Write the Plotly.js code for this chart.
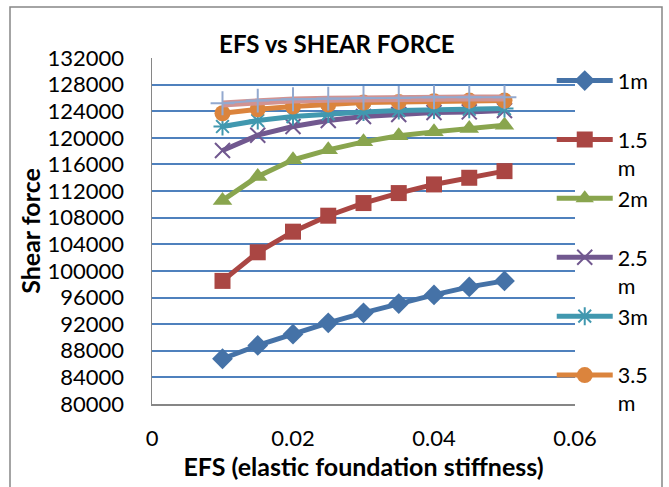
<!DOCTYPE html>
<html>
<head>
<meta charset="utf-8">
<script src="https://cdn.plot.ly/plotly-3.0.1.min.js"></script>
<style>
html,body{margin:0;padding:0;background:#fff;}
#chart{width:669px;height:487px;}
</style>
</head>
<body>
<div id="chart"></div>
<script>
const efs = [0.01, 0.015, 0.02, 0.025, 0.03, 0.035, 0.04, 0.045, 0.05];
const sf1m  = [86800, 88800, 90500, 92200, 93700, 95100, 96400, 97600, 98500];
const sf15m = [98500, 102800, 105900, 108300, 110200, 111700, 113000, 114000, 115000];
const sf2m  = [110600, 114200, 116700, 118200, 119400, 120300, 120900, 121400, 121900];
const sf25m = [118100, 120400, 121700, 122600, 123200, 123500, 123800, 123900, 124100];
const sf3m  = [121700, 122600, 123200, 123600, 123900, 124100, 124200, 124300, 124400];
const sf35m = [123700, 124300, 124700, 125000, 125300, 125400, 125500, 125600, 125600];
const sf4m  = [125100, 125500, 125700, 125800, 125900, 126000, 126000, 126000, 126000];
const sf45m = [125200, 125600, 125800, 125900, 126000, 126000, 126100, 126100, 126100];
const seriesNames = ['1m<br> ', '1.5<br>m', '2m<br> ', '2.5<br>m', '3m<br> ', '3.5<br>m', '4m', '4.5m'];
const xTickVals = [0, 0.02, 0.04, 0.06];
const xTickText = ['0', '0.02', '0.04', '0.06'];

const FONT = 'Lato, "Open Sans", sans-serif';

function tr(y, name, color, symbol, size, opts) {
  opts = opts || {};
  const open = symbol.indexOf('open') >= 0;
  return {
    x: efs, y: y, name: name, type: 'scatter', mode: 'lines+markers',
    legendgroup: name,
    showlegend: opts.showlegend !== false,
    line: {color: opts.lineColor || color, width: opts.lineWidth || 5},
    marker: {
      symbol: symbol, size: size, color: color,
      line: open ? {color: color, width: opts.mlw || 2} : {width: 0}
    }
  };
}

const data = [
  tr(sf1m,  seriesNames[0], '#4572A7', 'diamond', 16),
  tr(sf15m, seriesNames[1], '#AA4643', 'square', 16),
  tr(sf2m,  seriesNames[2], '#89A54E', 'triangle-up', 17),
  tr(sf25m, seriesNames[3], '#71588F', 'x-thin-open', 15),
  tr(sf3m,  seriesNames[4], '#4198AF', 'asterisk-open', 15),
  tr(sf35m, seriesNames[5], '#DB843D', 'circle', 16),
  tr(sf4m,  seriesNames[6], '#D19392', 'circle', 1, {showlegend: false, lineWidth: 7}),
  tr(sf45m, seriesNames[7], '#93A9CF', 'cross-thin-open', 17, {showlegend: false, lineWidth: 2, mlw: 2})
];

const layout = {
  width: 669, height: 487,
  margin: {l: 152, r: 94, t: 58, b: 82.5, pad: 0},
  paper_bgcolor: '#ffffff', plot_bgcolor: '#ffffff',
  font: {family: FONT, size: 22, color: '#000'},
  showlegend: true,
  title: {
    text: '<b>EFS vs SHEAR FORCE</b>',
    font: {family: FONT, size: 24, color: '#000'},
    xref: 'paper', x: 0.437, xanchor: 'center',
    yref: 'container', y: 1 - 45 / 487, yanchor: 'middle'
  },
  xaxis: {
    range: [0, 0.06], tickvals: xTickVals, ticktext: xTickText,
    showgrid: false, zeroline: false,
    showline: true, linecolor: '#868686', linewidth: 1.5,
    ticks: '', ticklabelstandoff: 14,
    tickfont: {family: FONT, size: 22, color: '#000'},
    title: {text: '<b>EFS (elastic foundation stiffness)</b>', font: {family: FONT, size: 25, color: '#000'}, standoff: 4}
  },
  yaxis: {
    range: [80000, 132000], dtick: 4000, tick0: 80000, tickformat: 'd',
    showgrid: true, gridcolor: '#4F81BD', gridwidth: 2,
    zeroline: false,
    showline: true, linecolor: '#868686', linewidth: 1.5,
    ticks: '', ticklabelstandoff: 22,
    tickfont: {family: FONT, size: 22, color: '#000'},
    title: {text: '<b>Shear force</b>', font: {family: FONT, size: 25, color: '#000'}, standoff: 0}
  },
  legend: {
    x: 0.945, xanchor: 'left', y: 0.994, yanchor: 'top',
    bgcolor: 'rgba(0,0,0,0)', borderwidth: 0,
    font: {family: FONT, size: 21.5, color: '#000'},
    tracegroupgap: 0, valign: 'top', itemwidth: 56, maxheight: 470
  },
  shapes: [{
    type: 'rect', xref: 'paper', yref: 'paper',
    x0: (10 - 152) / 423, x1: (662 - 152) / 423,
    y0: -0.4, y1: (404.5 - 7) / 346.5,
    line: {color: '#868686', width: 1.5}, fillcolor: 'rgba(0,0,0,0)', layer: 'below'
  }]
};

Plotly.newPlot('chart', data, layout, {displayModeBar: false, staticPlot: true});
</script>
</body>
</html>
